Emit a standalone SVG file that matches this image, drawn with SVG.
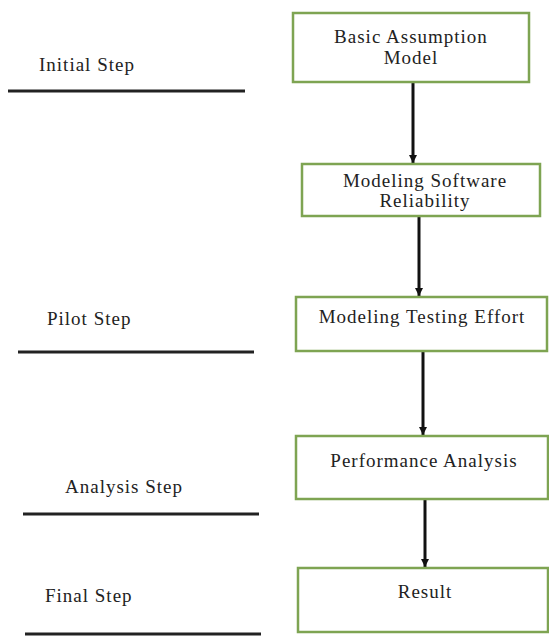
<svg xmlns="http://www.w3.org/2000/svg" width="549" height="636" viewBox="0 0 549 636">
  <style>
    .box { fill: #ffffff; stroke: #7ea452; stroke-width: 2.5; }
    .t { font-family: 'Liberation Serif', 'DejaVu Serif', serif; font-size: 19px; letter-spacing: 1px; fill: #222222; }
    .c { text-anchor: middle; }
    .rule { stroke: #222222; stroke-width: 3; }
    .conn { stroke: #111111; stroke-width: 3; fill: none; marker-end: url(#arrow); }
  </style>
  <defs>
    <marker id="arrow" markerWidth="10" markerHeight="10" refX="8" refY="5" orient="auto" markerUnits="userSpaceOnUse">
      <path d="M0,1 L8,5 L0,9 Z" fill="#111111"/>
    </marker>
  </defs>
  <rect width="549" height="636" fill="#ffffff"/>

  <!-- stage labels with underline rules -->
  <g id="stages">
    <text class="t" x="39" y="71">Initial Step</text>
    <line class="rule" x1="8" y1="91" x2="245" y2="91"/>
    <text class="t" x="47" y="325">Pilot Step</text>
    <line class="rule" x1="18" y1="352" x2="254" y2="352"/>
    <text class="t" x="65" y="493">Analysis Step</text>
    <line class="rule" x1="23" y1="514" x2="259" y2="514"/>
    <text class="t" x="45" y="602">Final Step</text>
    <line class="rule" x1="25" y1="634" x2="261" y2="634"/>
  </g>

  <g id="connectors">
    <line class="conn" x1="413" y1="83" x2="413" y2="163"/>
    <line class="conn" x1="419" y1="217" x2="419" y2="296"/>
    <line class="conn" x1="423" y1="352" x2="423" y2="435"/>
    <line class="conn" x1="425" y1="500" x2="425" y2="567"/>
  </g>

  <g id="basic-assumption">
    <rect class="box" x="293" y="13" width="236" height="69"/>
    <text class="t c" x="411" y="43">Basic Assumption</text>
    <text class="t c" x="411" y="64">Model</text>
  </g>

  <g id="software-reliability">
    <rect class="box" x="302" y="164" width="238" height="52"/>
    <text class="t c" x="425" y="187">Modeling Software</text>
    <text class="t c" x="425" y="207">Reliability</text>
  </g>

  <g id="testing-effort">
    <rect class="box" x="296" y="297" width="251" height="54"/>
    <text class="t c" x="422" y="323">Modeling Testing Effort</text>
  </g>

  <g id="performance-analysis">
    <rect class="box" x="296" y="436" width="252" height="63"/>
    <text class="t c" x="424" y="467">Performance Analysis</text>
  </g>

  <g id="result">
    <rect class="box" x="298" y="568" width="250" height="64"/>
    <text class="t c" x="425" y="598">Result</text>
  </g>
</svg>
